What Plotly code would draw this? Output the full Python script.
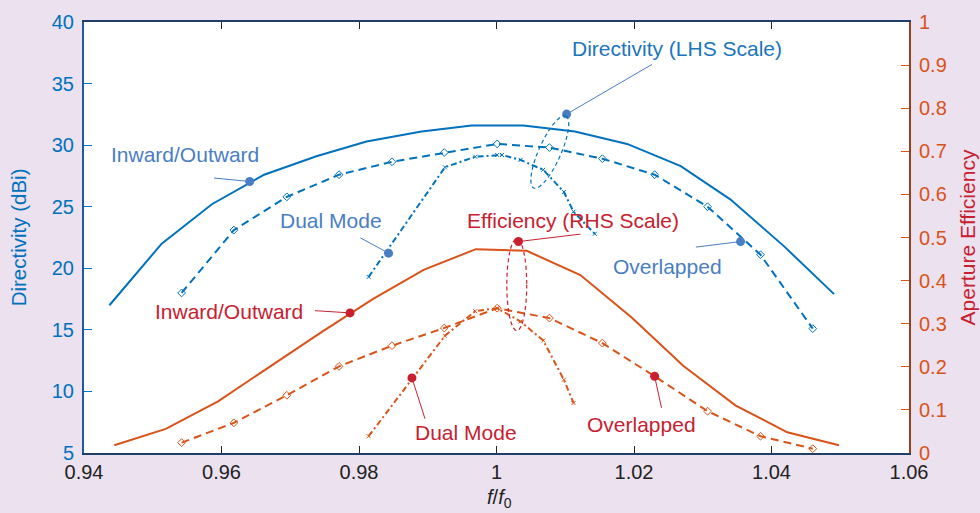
import numpy as np
import plotly.graph_objects as go

# ---------------- data ----------------
f_io_dir = [0.9437, 0.9513, 0.9586, 0.9662, 0.9738, 0.9811, 0.9891, 0.9964,
            1.0039, 1.0114, 1.0190, 1.0268, 1.0340, 1.0418, 1.0491]
dir_io = [17.0, 22.0, 25.2, 27.6, 29.1, 30.3, 31.1, 31.6,
          31.6, 31.1, 30.1, 28.3, 25.6, 21.8, 17.9]

f_ov = [0.9542, 0.9618, 0.9695, 0.9771, 0.9848, 0.9924, 1.0001,
        1.0077, 1.0154, 1.0230, 1.0307, 1.0384, 1.0460]
dir_ov = [18.0, 23.1, 25.8, 27.6, 28.65, 29.4, 30.1,
          29.8, 28.9, 27.6, 25.0, 21.1, 15.1]

f_dm_dir = [0.9814, 0.9925, 0.9969, 1.0001, 1.0008, 1.0035, 1.0068, 1.0098, 1.0112, 1.0143]
dir_dm = [19.3, 28.2, 29.06, 29.2, 29.2, 28.8, 28.0, 26.2, 24.6, 22.8]

f_io_eff = [0.9444, 0.9519, 0.9595, 0.9670, 0.9746, 0.9820, 0.9894, 0.9970,
            1.0044, 1.0122, 1.0197, 1.0272, 1.0348, 1.0423, 1.0498]
eff_io = [0.018, 0.056, 0.120, 0.201, 0.281, 0.357, 0.425, 0.473,
          0.469, 0.413, 0.314, 0.202, 0.110, 0.048, 0.018]

eff_ov = [0.024, 0.070, 0.134, 0.201, 0.249, 0.290, 0.336,
          0.313, 0.255, 0.178, 0.097, 0.039, 0.010]

f_dm_eff = [0.9814, 0.9925, 0.9969, 1.0001, 1.0035, 1.0068, 1.0098, 1.0112]
eff_dm = [0.039, 0.272, 0.329, 0.336, 0.305, 0.261, 0.170, 0.116]

x_ticks = [0.94, 0.96, 0.98, 1.00, 1.02, 1.04, 1.06]
x_ticktext = ["0.94", "0.96", "0.98", "1", "1.02", "1.04", "1.06"]
y_ticks = [5, 10, 15, 20, 25, 30, 35, 40]
y2_ticks = [0, 0.1, 0.2, 0.3, 0.4, 0.5, 0.6, 0.7, 0.8, 0.9, 1.0]
y2_ticktext = ["0", "0.1", "0.2", "0.3", "0.4", "0.5", "0.6", "0.7", "0.8", "0.9", "1"]

# ---------------- style ----------------
BLUE = "#0072BD"
ORANGE = "#D95319"
ANN_BLUE = "#4A7EC4"
ANN_BLUE2 = "#1B75BC"
ANN_RED = "#C8202F"
BG = "#EBE1EF"
FONT = "Liberation Sans, Arial, sans-serif"
DASH = "8px,5px"
DASHDOT = "6px,3px,2px,3px"

fig = go.Figure()

fig.add_trace(go.Scatter(x=f_io_dir, y=dir_io, mode="lines",
                         line=dict(color=BLUE, width=2), yaxis="y"))
fig.add_trace(go.Scatter(x=f_ov, y=dir_ov, mode="lines+markers",
                         line=dict(color=BLUE, width=2, dash=DASH),
                         marker=dict(symbol="diamond-open", size=6, color=BLUE, line=dict(width=1)),
                         yaxis="y"))
fig.add_trace(go.Scatter(x=f_dm_dir, y=dir_dm, mode="lines+markers",
                         line=dict(color=BLUE, width=2, dash=DASHDOT),
                         marker=dict(symbol="x-thin-open", size=4, color=BLUE, line=dict(width=1, color=BLUE)),
                         yaxis="y"))

fig.add_trace(go.Scatter(x=f_io_eff, y=eff_io, mode="lines",
                         line=dict(color=ORANGE, width=2), yaxis="y2"))
fig.add_trace(go.Scatter(x=f_ov, y=eff_ov, mode="lines+markers",
                         line=dict(color=ORANGE, width=2, dash=DASH),
                         marker=dict(symbol="diamond-open", size=6, color=ORANGE, line=dict(width=1)),
                         yaxis="y2"))
fig.add_trace(go.Scatter(x=f_dm_eff, y=eff_dm, mode="lines+markers",
                         line=dict(color=ORANGE, width=2, dash=DASHDOT),
                         marker=dict(symbol="x-thin-open", size=4, color=ORANGE, line=dict(width=1, color=ORANGE)),
                         yaxis="y2"))

shapes = []
annotations = []


def callout(text, tx, ty, anchor, dot, start, color, dotcolor, yref):
    annotations.append(dict(x=tx, y=ty, xref="x", yref=yref, text=text, showarrow=False,
                            xanchor=anchor, yanchor="middle",
                            font=dict(family=FONT, size=21, color=color)))
    shapes.append(dict(type="line", xref="x", yref=yref, x0=start[0], y0=start[1],
                       x1=dot[0], y1=dot[1], line=dict(color=dotcolor, width=1)))
    shapes.append(dict(type="circle", xref="x", yref=yref, xsizemode="pixel", ysizemode="pixel",
                       xanchor=dot[0], yanchor=dot[1], x0=-4.5, x1=4.5, y0=-4.5, y1=4.5,
                       fillcolor=dotcolor, line=dict(color=dotcolor, width=0)))


# blue callouts (directivity scale)
callout("Inward/Outward", 0.9437, 29.2, "left", (0.9641, 27.05), (0.9589, 27.33), ANN_BLUE, ANN_BLUE, "y")
callout("Dual Mode", 0.9836, 23.85, "right", (0.9843, 21.23), (0.9802, 22.47), ANN_BLUE, ANN_BLUE, "y")
callout("Directivity (LHS Scale)", 1.0107, 37.87, "left", (1.0102, 32.52), (1.0226, 36.55), ANN_BLUE2, ANN_BLUE, "y")
callout("Overlapped", 1.0167, 20.12, "left", (1.0355, 22.17), (1.0290, 21.72), ANN_BLUE, ANN_BLUE, "y")

# red callouts (efficiency scale)
callout("Efficiency (RHS Scale)", 0.9954, 0.5386, "left", (1.0032, 0.4906), (1.0122, 0.5078), ANN_RED, ANN_RED, "y2")
callout("Inward/Outward", 0.9500, 0.3279, "left", (0.9787, 0.3251), (0.9736, 0.3302), ANN_RED, ANN_RED, "y2")
callout("Dual Mode", 0.9879, 0.0477, "left", (0.9877, 0.1743), (0.9896, 0.0794), ANN_RED, ANN_RED, "y2")
callout("Overlapped", 1.0129, 0.0662, "left", (1.0230, 0.178), (1.0240, 0.1049), ANN_RED, ANN_RED, "y2")

# dashed ellipses grouping curves
xs_per_px = 0.02 / 137.3
ys_per_px = 5 / 61.7
cx, cy = 1.00775, 29.44
ux, uy = 0.406, -0.914
t = np.linspace(0, 2 * np.pi, 60)
px = 39.5 * np.cos(t) * ux + 11 * np.sin(t) * (-uy)
py = 39.5 * np.cos(t) * uy + 11 * np.sin(t) * ux
pts = [(cx + a * xs_per_px, cy - b * ys_per_px) for a, b in zip(px, py)]
path = "M " + " L ".join(f"{a:.6f},{b:.4f}" for a, b in pts) + " Z"
shapes.append(dict(type="path", xref="x", yref="y", path=path,
                   line=dict(color=BLUE, width=1.2, dash="4px,3px")))
shapes.append(dict(type="circle", xref="x", yref="y2", x0=1.0015, x1=1.0044, y0=0.284, y1=0.497,
                   line=dict(color=ANN_RED, width=1.2, dash="4px,3px")))

# axis titles
annotations.append(dict(x=-0.079, y=0.5, xref="paper", yref="paper", text="Directivity (dBi)",
                        textangle=-90, showarrow=False, xanchor="center", yanchor="middle",
                        font=dict(family=FONT, size=20.5, color=BLUE)))
annotations.append(dict(x=1.0715, y=0.5, xref="paper", yref="paper", text="Aperture Efficiency",
                        textangle=-90, showarrow=False, xanchor="center", yanchor="middle",
                        font=dict(family=FONT, size=21, color=ANN_RED)))
annotations.append(dict(x=0.504, y=-0.105, xref="paper", yref="paper",
                        text="<i>f</i>/<i>f</i><sub>0</sub>",
                        showarrow=False, xanchor="center", yanchor="middle",
                        font=dict(family=FONT, size=20, color="#222222")))

fig.update_layout(
    width=980, height=513,
    margin=dict(l=84, r=71, t=22, b=60),
    paper_bgcolor=BG, plot_bgcolor="white",
    showlegend=False,
    font=dict(family=FONT),
    shapes=shapes, annotations=annotations,
    xaxis=dict(range=[0.94, 1.06], tickvals=x_ticks, ticktext=x_ticktext,
               ticks="inside", ticklen=7, tickcolor="#222222", tickwidth=1,
               showline=True, linecolor="#1F3F66", linewidth=2, mirror="ticks",
               showgrid=False, zeroline=False,
               tickfont=dict(family=FONT, size=20, color="#222222")),
    yaxis=dict(range=[5, 40], tickvals=y_ticks, ticks="inside", ticklen=8,
               tickcolor=BLUE, tickwidth=1, showline=True, linecolor="#1F5A96", linewidth=2,
               showgrid=False, zeroline=False, ticklabelstandoff=4,
               tickfont=dict(family=FONT, size=20, color=BLUE)),
    yaxis2=dict(range=[0, 1], tickvals=y2_ticks, ticktext=y2_ticktext, overlaying="y", side="right",
                ticks="inside", ticklen=8, tickcolor=ORANGE, tickwidth=1,
                showline=True, linecolor="#9C3D1C", linewidth=2,
                showgrid=False, zeroline=False, ticklabelstandoff=4,
                tickfont=dict(family=FONT, size=20, color=ORANGE)),
)

fig.write_html("out.html")
